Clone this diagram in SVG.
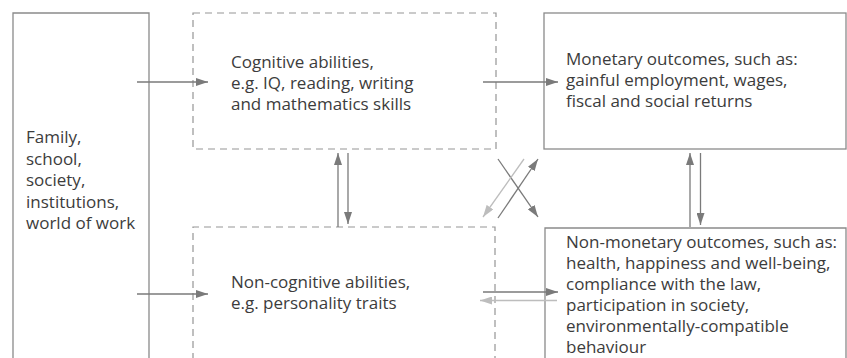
<svg xmlns="http://www.w3.org/2000/svg" width="847" height="358" viewBox="0 0 847 358">
<style>
.box{fill:none;stroke:#8a8a8a;stroke-width:1.3}
.dash{fill:none;stroke:#959595;stroke-width:1.2;stroke-dasharray:7 5}
.t{font-family:"Open Sans","Noto Sans",sans-serif;font-size:17px;fill:#3c3c3c}
.d{stroke:#7a7a7a;stroke-width:1.3;fill:none}
.l{stroke:#bdbdbd;stroke-width:1.3;fill:none}
</style>
<defs>
<marker id="ad" viewBox="0 0 12 8" refX="12" refY="4" markerWidth="12" markerHeight="8" markerUnits="userSpaceOnUse" orient="auto"><path d="M0,0L12,4L0,8Z" fill="#7a7a7a"/></marker>
<marker id="al" viewBox="0 0 12 8" refX="12" refY="4" markerWidth="12" markerHeight="8" markerUnits="userSpaceOnUse" orient="auto"><path d="M0,0L12,4L0,8Z" fill="#bdbdbd"/></marker>
</defs>
<rect width="847" height="358" fill="#fff"/>
<g id="family">
<path class="box" d="M13,360V13H149V360"/>
<text class="t"><tspan x="26" y="143">Family,</tspan><tspan x="26" y="164.5">school,</tspan><tspan x="26" y="186">society,</tspan><tspan x="26" y="207.5">institutions,</tspan><tspan x="26" y="229">world of work</tspan></text>
</g>
<g id="cognitive">
<rect class="dash" x="193" y="13" width="303" height="136"/>
<text class="t"><tspan x="231" y="67.5">Cognitive abilities,</tspan><tspan x="231" y="88.5">e.g. IQ, reading, writing</tspan><tspan x="231" y="109.5">and mathematics skills</tspan></text>
</g>
<g id="noncognitive">
<path class="dash" d="M193,360V227H495V360"/>
<text class="t"><tspan x="231" y="287.5">Non-cognitive abilities,</tspan><tspan x="231" y="308.5">e.g. personality traits</tspan></text>
</g>
<g id="monetary">
<rect class="box" x="544" y="13" width="302" height="136"/>
<text class="t"><tspan x="566" y="64.5">Monetary outcomes, such as:</tspan><tspan x="566" y="85.5">gainful employment, wages,</tspan><tspan x="566" y="106.5">fiscal and social returns</tspan></text>
</g>
<g id="nonmonetary">
<path class="box" d="M545,360V228H846V360"/>
<text class="t"><tspan x="566" y="248">Non-monetary outcomes, such as:</tspan><tspan x="566" y="269">health, happiness and well-being,</tspan><tspan x="566" y="290">compliance with the law,</tspan><tspan x="566" y="311">participation in society,</tspan><tspan x="566" y="332">environmentally-compatible</tspan><tspan x="566" y="353">behaviour</tspan></text>
</g>
<g id="connectors">
<line class="d" x1="137" y1="82" x2="208" y2="82" marker-end="url(#ad)"/>
<line class="d" x1="137" y1="294" x2="208" y2="294" marker-end="url(#ad)"/>
<line class="d" x1="483" y1="82" x2="558" y2="82" marker-end="url(#ad)"/>
<line class="d" x1="483" y1="292" x2="558" y2="292" marker-end="url(#ad)"/>
<line class="l" x1="557" y1="300.5" x2="480" y2="300.5" marker-end="url(#al)"/>
<line class="d" x1="338" y1="227" x2="338" y2="153" marker-end="url(#ad)"/>
<line class="d" x1="348" y1="153" x2="348" y2="224" marker-end="url(#ad)"/>
<line class="d" x1="690" y1="227" x2="690" y2="153" marker-end="url(#ad)"/>
<line class="d" x1="700.5" y1="153" x2="700.5" y2="225" marker-end="url(#ad)"/>
<line class="d" x1="498" y1="159" x2="538" y2="217" marker-end="url(#ad)"/>
<line class="d" x1="498" y1="218" x2="538" y2="159" marker-end="url(#ad)"/>
<line class="l" x1="524" y1="159" x2="483" y2="217" marker-end="url(#al)"/>
</g>
</svg>
